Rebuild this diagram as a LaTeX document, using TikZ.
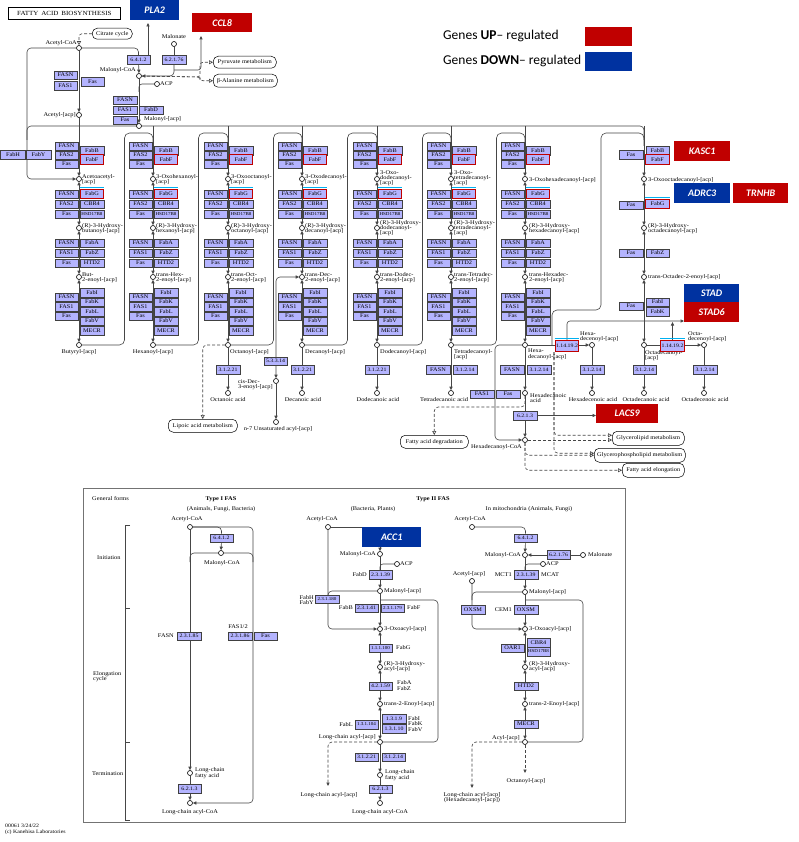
\documentclass[tikz,border=0pt]{standalone}
\usepackage{fontspec}
\setmainfont{Liberation Serif}
\newfontfamily\keggf[FakeStretch=1.12]{Liberation Serif}
\newfontfamily\calf{Carlito}
\usetikzlibrary{arrows.meta}
\pgfdeclarelayer{bg}
\pgfdeclarelayer{bgw}
\pgfsetlayers{bgw,bg,main}
\definecolor{encol}{RGB}{180,180,255}
\definecolor{upred}{RGB}{192,0,0}
\definecolor{dnblue}{RGB}{0,50,160}
\definecolor{cyanb}{RGB}{0,176,240}
\definecolor{lncol}{RGB}{70,70,70}
\tikzset{
 ebox/.style={draw=black!75, fill=encol, line width=0.45pt, minimum width=23.5pt, minimum height=8.5pt, inner sep=0pt, font=\keggf\fontsize{5.6}{5}\selectfont},
 ec/.style={font=\keggf\fontsize{5.2}{5}\selectfont},
 ecs/.style={font=\keggf\fontsize{4.5}{5}\selectfont},
 redb/.style={draw=upred, line width=1.1pt, minimum height=9.5pt},
 cpd/.style={circle, draw=black, line width=0.6pt, fill=white, inner sep=0pt, minimum size=5pt},
 lbl/.style={font=\keggf\fontsize{5.7}{5.2}\selectfont, inner sep=0pt, align=left},
 lblc/.style={lbl, align=center},
 ln/.style={draw=lncol, line width=0.6pt},
 arr/.style={ln, -{Triangle[length=3.5pt,width=3.2pt]}},
 barr/.style={ln, {Triangle[length=3.5pt,width=3.2pt]}-{Triangle[length=3.5pt,width=3.2pt]}},
 dsh/.style={ln, dash pattern=on 3pt off 2pt},
 oarr/.style={dsh, -{Triangle[open,length=4pt,width=4pt]}},
 darr/.style={dsh, -{Triangle[length=3.5pt,width=3.2pt]}},
 mapbox/.style={draw=black, rounded corners=5pt, line width=0.5pt, fill=white, inner sep=1pt, anchor=north west, font=\keggf\fontsize{5.7}{5}\selectfont},
 gene/.style={inner sep=0pt, anchor=north west, font=\calf\bfseries\itshape\fontsize{10}{10}\selectfont, text=white},
 up/.style={gene, fill=upred},
 dn/.style={gene, fill=dnblue},
}
\newcommand\cyantop[1]{\draw[cyanb, line width=0.9pt] ([yshift=1.4pt]#1.north west) -- ([yshift=1.4pt]#1.north east);}
\begin{document}
\begin{tikzpicture}[x=1pt,y=-1pt]
\begin{pgfonlayer}{bgw}
\fill[white] (0,0) rectangle (798,842);
\end{pgfonlayer}
\useasboundingbox (0,0) rectangle (798,842);

% ---------- title and legend ----------
\node[draw=black, line width=0.7pt, anchor=north west, minimum width=112pt, minimum height=12pt, inner sep=0pt, font=\keggf\fontsize{6.3}{6}\selectfont] (title) at (8,7) {FATTY\,\ ACID\,\ BIOSYNTHESIS};
\node[anchor=west, inner sep=0pt, font=\calf\fontsize{13.5}{14}\selectfont] (lgup) at (443,36) {Genes \textbf{UP}– regulated};
\node[anchor=west, inner sep=0pt, font=\calf\fontsize{13.5}{14}\selectfont] (lgdn) at (443,61) {Genes \textbf{DOWN}– regulated};
\node[up, minimum width=47pt, minimum height=19pt] (lgupb) at (585,27) {};
\node[dn, minimum width=47pt, minimum height=19pt] (lgdnb) at (585,52) {};

% ---------- gene boxes ----------
\node[dn, minimum width=49pt, minimum height=20pt] (pla2) at (130,0) {PLA2};
\node[up, minimum width=60pt, minimum height=19pt] (ccl8) at (192,13) {CCL8};
\node[up, minimum width=56pt, minimum height=20pt] (kasc1) at (674,141) {KASC1};
\node[dn, minimum width=56pt, minimum height=20pt] (adrc3) at (674,183) {ADRC3};
\node[up, minimum width=55pt, minimum height=20pt] (trnhb) at (733,183) {TRNHB};
\node[dn, minimum width=55pt, minimum height=18pt] (stad) at (684,284) {STAD};
\node[up, minimum width=55pt, minimum height=20pt] (stad6) at (684,302) {STAD6};
\node[up, minimum width=62pt, minimum height=19pt] (lacs9) at (596,404) {LACS9};
\node[dn, minimum width=59pt, minimum height=20pt] (acc1) at (362,527) {ACC1};

% ---------- top left ----------
\node[cpd] (acoa) at (79,48) {};
\node[lbl, anchor=east] (acoaL) at (77,43) {Acetyl-CoA};
\node[mapbox, minimum width=40pt, minimum height=11pt] (citr) at (92,28) {Citrate cycle};
\node[ebox] (tf1) at (65.5,75) {FASN};
\node[ebox] (tf2) at (65.5,85.5) {FAS1};
\node[ebox] (tf3) at (92.5,81.5) {Fas};
\node[cpd] (aacp) at (79,115) {};
\node[lbl, anchor=east] (aacpL) at (76,115) {Acetyl-[acp]};
\node[ebox,ec] (e6412) at (138.5,59.5) {6.4.1.2};
\node[ebox,ec] (e62176) at (174,59.5) {6.2.1.76};
\node[cpd] (malon) at (174,44) {};
\node[lblc] (malonL) at (174,37) {Malonate};
\node[cpd] (mcoa) at (139,76) {};
\node[lbl, anchor=east] (mcoaL) at (136,70) {Malonyl-CoA};
\node[mapbox, minimum width=63pt, minimum height=12pt] (pyr) at (213,56) {Pyruvate metabolism};
\node[mapbox, minimum width=64pt, minimum height=13pt] (bala) at (213,74) {β-Alanine metabolism};
\node[cpd] (acp0) at (157,84) {};
\node[lbl, anchor=west] (acp0L) at (160,84) {ACP};
\node[ebox] (mf1) at (125,100) {FASN};
\node[ebox] (mf2) at (125,110) {FAS1};
\node[ebox] (mf3) at (151,110) {FabD};
\node[ebox] (mf4) at (125,120) {Fas};
\node[cpd] (macp) at (139,126) {};
\node[lbl, anchor=west] (macpL) at (144,119.5) {Malonyl-[acp]};
\node[ebox, minimum width=25pt] (fabh) at (13,154.5) {FabH};
\node[ebox, minimum width=25pt] (faby) at (38.5,154.5) {FabY};
\coordinate (ccl8tip) at (201,36);
\coordinate (pla2tip) at (148,23);

% ---------- elongation columns 1..7 ----------
\foreach \i/\c in {1/79,2/153,3/228,4/302,5/377,6/451,7/525}{
  \node[ebox] (ba\i) at ({\c-12.5},146) {FASN};
  \node[ebox] (bb\i) at ({\c-12.5},155) {FAS2};
  \node[ebox] (bc\i) at ({\c-12.5},164) {Fas};
  \node[ebox] (bd\i) at ({\c+13},150.5) {FabB};
  \node[ebox,redb] (be\i) at ({\c+13},159.5) {FabF};
  \node[ebox] (ca\i) at ({\c-12.5},194) {FASN};
  \node[ebox] (cb\i) at ({\c-12.5},204) {FAS2};
  \node[ebox] (cc\i) at ({\c-12.5},214) {Fas};
  \node[ebox,redb] (cd\i) at ({\c+13},194) {FabG};
  \cyantop{cd\i}
  \node[ebox] (ce\i) at ({\c+13},204) {CBR4};
  \node[ebox,ecs] (cf\i) at ({\c+13},214) {HSD17B8};
  \node[ebox] (da\i) at ({\c-12.5},243) {FASN};
  \node[ebox] (db\i) at ({\c-12.5},253) {FAS1};
  \node[ebox] (dc\i) at ({\c-12.5},263) {Fas};
  \node[ebox] (dd\i) at ({\c+13},243) {FabA};
  \node[ebox] (de\i) at ({\c+13},253) {FabZ};
  \node[ebox] (df\i) at ({\c+13},263) {HTD2};
  \node[ebox] (ga\i) at ({\c-12.5},297) {FASN};
  \node[ebox] (gb\i) at ({\c-12.5},306.5) {FAS1};
  \node[ebox] (gc\i) at ({\c-12.5},316) {Fas};
  \node[ebox] (gd\i) at ({\c+13},292.5) {FabI};
  \node[ebox] (ge\i) at ({\c+13},302) {FabK};
  \node[ebox] (gf\i) at ({\c+13},311.5) {FabL};
  \node[ebox] (gg\i) at ({\c+13},321) {FabV};
  \node[ebox] (gh\i) at ({\c+13},330.5) {MECR};
  \node[cpd] (ox\i) at (\c,179) {};
  \node[cpd] (hy\i) at (\c,228) {};
  \node[cpd] (en\i) at (\c,277) {};
  \node[cpd] (pr\i) at (\c,345) {};
}
% labels columns
\node[lbl,anchor=west] (l1a) at (82,180) {Acetoacetyl-\\{}[acp]};
\node[lbl,anchor=west] (l1b) at (82,229) {(R)-3-Hydroxy-\\butanoyl-[acp]};
\node[lbl,anchor=west] (l1c) at (82,277.5) {But-\\2-enoyl-[acp]};
\node[lblc] (l1d) at (79,352) {Butyryl-[acp]};
\node[lbl,anchor=west] (l2a) at (156,180) {3-Oxohexanoyl-\\{}[acp]};
\node[lbl,anchor=west] (l2b) at (156,229) {(R)-3-Hydroxy-\\hexanoyl-[acp]};
\node[lbl,anchor=west] (l2c) at (156,277.5) {trans-Hex-\\2-enoyl-[acp]};
\node[lblc] (l2d) at (153,352) {Hexanoyl-[acp]};
\node[lbl,anchor=west] (l3a) at (231,180) {3-Oxooctanoyl-\\{}[acp]};
\node[lbl,anchor=west] (l3b) at (231,229) {(R)-3-Hydroxy-\\octanoyl-[acp]};
\node[lbl,anchor=west] (l3c) at (231,277.5) {trans-Oct-\\2-enoyl-[acp]};
\node[lbl,anchor=west] (l3d) at (230,352) {Octanoyl-[acp]};
\node[lbl,anchor=west] (l4a) at (305,180) {3-Oxodecanoyl-\\{}[acp]};
\node[lbl,anchor=west] (l4b) at (305,229) {(R)-3-Hydroxy-\\decanoyl-[acp]};
\node[lbl,anchor=west] (l4c) at (305,277.5) {trans-Dec-\\2-enoyl-[acp]};
\node[lbl,anchor=west] (l4d) at (305,352) {Decanoyl-[acp]};
\node[lbl,anchor=west] (l5a) at (380,178) {3-Oxo-\\dodecanoyl-\\{}[acp]};
\node[lbl,anchor=west] (l5b) at (380,228) {(R)-3-Hydroxy-\\dodecanoyl-\\{}[acp]};
\node[lbl,anchor=west] (l5c) at (380,277.5) {trans-Dodec-\\2-enoyl-[acp]};
\node[lbl,anchor=west] (l5d) at (380,352) {Dodecanoyl-[acp]};
\node[lbl,anchor=west] (l6a) at (454,178) {3-Oxo-\\tetradecanoyl-\\{}[acp]};
\node[lbl,anchor=west] (l6b) at (454,228) {(R)-3-Hydroxy-\\tetradecanoyl-\\{}[acp]};
\node[lbl,anchor=west] (l6c) at (454,277.5) {trans-Tetradec-\\2-enoyl-[acp]};
\node[lbl,anchor=north west] (l6d) at (454,349) {Tetradecanoyl-\\{}[acp]};
\node[lbl,anchor=west] (l7a) at (529,180) {3-Oxohexadecanoyl-[acp]};
\node[lbl,anchor=west] (l7b) at (529,229) {(R)-3-Hydroxy-\\hexadecanoyl-[acp]};
\node[lbl,anchor=west] (l7c) at (529,277.5) {trans-Hexadec-\\2-enoyl-[acp]};
\node[lbl,anchor=north west] (l7d) at (528,349) {Hexa-\\decanoyl-[acp]};

% ---------- column 8 ----------
\node[ebox] (h1) at (631,154.5) {Fas};
\node[ebox] (h2) at (657.5,150.5) {FabB};
\node[ebox,redb] (h3) at (657.5,159.5) {FabF};
\node[ebox] (h4) at (631,205) {Fas};
\node[ebox,redb] (h5) at (657.5,204) {FabG};
\cyantop{h5}
\node[ebox] (h6) at (631,253) {Fas};
\node[ebox] (h7) at (657.5,253) {FabZ};
\node[ebox] (h8) at (631,306) {Fas};
\node[ebox] (h9) at (657.5,302) {FabI};
\node[ebox] (h10) at (657.5,311.5) {FabK};
\node[cpd] (ox8) at (644,179) {};
\node[cpd] (hy8) at (644,228) {};
\node[cpd] (en8) at (644,277) {};
\node[cpd] (pr8) at (644,345) {};
\node[lbl,anchor=west] (l8a) at (648,180) {3-Oxooctadecanoyl-[acp]};
\node[lbl,anchor=west] (l8b) at (648,229) {(R)-3-Hydroxy-\\octadecanoyl-[acp]};
\node[lbl,anchor=west] (l8c) at (648,277.5) {trans-Octadec-2-enoyl-[acp]};
\node[lbl,anchor=north west] (l8d) at (645,350) {Octadecanoyl-\\{}[acp]};

% desaturases
\node[ebox,ec,redb,minimum height=10.5pt] (d9a) at (567,346) {1.14.19.2};
\cyantop{d9a}
\node[ebox,ec,redb,minimum height=10.5pt] (d9b) at (672.5,346) {1.14.19.2};
\cyantop{d9b}
\node[cpd] (hxe) at (592,345) {};
\node[lbl,anchor=south west] (hxeL) at (580,342) {Hexa-\\decenoyl-[acp]};
\node[cpd] (oce) at (704,345) {};
\node[lbl,anchor=south west] (oceL) at (688,342) {Octa-\\decenoyl-[acp]};
\coordinate (stadtip) at (684,321);
\coordinate (d9bup) at (672.5,322);

% thioesterases
\node[ebox,ec] (t3) at (228,369.5) {3.1.2.21};
\node[ebox,ec] (t4) at (302.5,369.5) {3.1.2.21};
\node[ebox,ec] (t5) at (377,369.5) {3.1.2.21};
\node[ebox] (t6a) at (438,369.5) {FASN};
\node[ebox,ec] (t6b) at (465,369.5) {3.1.2.14};
\node[ebox] (t7a) at (512,369.5) {FASN};
\node[ebox,ec] (t7b) at (539,369.5) {3.1.2.14};
\node[ebox,ec] (t8) at (592,369.5) {3.1.2.14};
\node[ebox,ec] (t9) at (644.5,369.5) {3.1.2.14};
\node[ebox,ec] (t10) at (705,369.5) {3.1.2.14};
\node[cpd] (fa3) at (228,393) {};
\node[cpd] (fa4) at (302,393) {};
\node[cpd] (fa5) at (377,393) {};
\node[cpd] (fa6) at (451,393) {};
\node[cpd] (hda) at (525,393) {};
\node[cpd] (fa8) at (592,393) {};
\node[cpd] (fa9) at (644,393) {};
\node[cpd] (fa10) at (704,393) {};
\node[lblc] (fa3L) at (228,400) {Octanoic acid};
\node[lblc] (fa4L) at (303,400) {Decanoic acid};
\node[lblc] (fa5L) at (378,400) {Dodecanoic acid};
\node[lblc] (fa6L) at (444,400) {Tetradecanoic acid};
\node[lbl,anchor=west] (hdaL) at (530,398) {Hexadecanoic\\acid};
\node[lblc] (fa8L) at (593,400) {Hexadecenoic acid};
\node[lblc] (fa9L) at (646,400) {Octadecanoic acid};
\node[lblc] (fa10L) at (705,400) {Octadecenoic acid};

% isomerase branch
\node[ebox,ec] (e53314) at (275.5,361) {5.3.3.14};
\node[cpd] (cisd) at (276,381) {};
\node[lbl,anchor=east] (cisdL) at (273,385) {cis-Dec-\\3-enoyl-[acp]};
\node[cpd] (n7) at (276,422) {};
\node[lblc] (n7L) at (278,429.5) {n-7 Unsaturated acyl-[acp]};

% lower right of main map
\node[mapbox, minimum width=69pt, minimum height=13pt] (lipo) at (168,419) {Lipoic acid metabolism};
\node[mapbox, minimum width=68pt, minimum height=13pt] (fadeg) at (400,435) {Fatty acid degradation};
\node[ebox] (y1) at (482,394) {FAS1};
\node[ebox] (y2) at (508,394) {Fas};
\node[ebox,ec] (e6213) at (525,415.5) {6.2.1.3};
\node[cpd] (hcoa) at (525,440) {};
\node[lbl,anchor=east] (hcoaL) at (522,447) {Hexadecanoyl-CoA};
\node[mapbox, minimum width=72pt, minimum height=14pt] (glyc) at (612,431) {Glycerolipid metabolism};
\node[mapbox, minimum width=91pt, minimum height=14pt] (gphl) at (594,448) {Glycerophospholipid metabolism};
\node[mapbox, minimum width=62pt, minimum height=14pt] (fael) at (622,463) {Fatty acid elongation};
\coordinate (dsA) at (554,352);

% ---------- lower panel ----------
\node[draw=black!55, line width=0.8pt, anchor=north west, minimum width=542pt, minimum height=334pt, inner sep=0pt] (panel) at (83,488) {};
\node[lbl,anchor=west] (gf) at (92,499) {General forms};
\node[lblc, font=\keggf\bfseries\fontsize{5.7}{5}\selectfont] (ty1) at (221,499) {Type I FAS};
\node[lblc] (ty1b) at (221,509) {(Animals, Fungi, Bacteria)};
\node[lblc, font=\keggf\bfseries\fontsize{5.7}{5}\selectfont] (ty2) at (433,499) {Type II FAS};
\node[lblc] (ty2b) at (373,509) {(Bacteria, Plants)};
\node[lblc] (ty3b) at (529,509) {In mitochondria (Animals, Fungi)};
\node[lbl,anchor=west] (ini) at (97,558) {Initiation};
\node[lbl,anchor=west] (elo) at (93,677) {Elongation\\cycle};
\node[lbl,anchor=west] (ter) at (92,774) {Termination};
\coordinate (brA) at (130,525);
\coordinate (brB) at (130,820);

% Type I
\node[cpd] (t1a) at (190,527) {};
\node[lblc] (t1aL) at (187,519.5) {Acetyl-CoA};
\node[ebox,ec] (t1e1) at (221.5,538) {6.4.1.2};
\node[cpd] (t1m) at (221,553) {};
\node[lblc] (t1mL) at (222,563) {Malonyl-CoA};
\node[lbl,anchor=east] (t1fasn) at (174,636) {FASN};
\node[ebox,ec] (t1e2) at (189,636) {2.3.1.85};
\node[lblc] (t1fas12) at (238,627) {FAS1/2};
\node[ebox,ec] (t1e3) at (240,636) {2.3.1.86};
\node[ebox] (t1e4) at (265.5,636) {Fas};
\node[cpd] (t1lf) at (190,773) {};
\node[lbl,anchor=west] (t1lfL) at (195,773) {Long-chain\\fatty acid};
\node[ebox,ec] (t1e5) at (189.5,788.5) {6.2.1.3};
\node[cpd] (t1lc) at (190,803) {};
\node[lblc] (t1lcL) at (190,812) {Long-chain acyl-CoA};

% Type II
\node[cpd] (t2a) at (328,527) {};
\node[lblc] (t2aL) at (322,519.5) {Acetyl-CoA};
\node[cpd] (t2m) at (380,554) {};
\node[lbl,anchor=east] (t2mL) at (376,554) {Malonyl-CoA};
\node[cpd] (t2acp) at (397,564) {};
\node[lbl,anchor=west] (t2acpL) at (400,564) {ACP};
\node[lbl,anchor=east] (t2fabd) at (367,574.5) {FabD};
\node[ebox,ec] (t2e1) at (380.5,574.5) {2.3.1.39};
\node[cpd] (t2ma) at (380,591) {};
\node[lbl,anchor=west] (t2maL) at (384,591) {Malonyl-[acp]};
\node[lbl,anchor=east] (t2fabh) at (314,600) {FabH\\FabY};
\node[ebox,ecs] (t2e2) at (327,599) {2.3.1.180};
\node[lbl,anchor=east] (t2fabb) at (353,608) {FabB};
\node[ebox,ec] (t2e3) at (366.5,608) {2.3.1.41};
\node[ebox,ecs] (t2e4) at (392.5,608) {2.3.1.179};
\node[lbl,anchor=west] (t2fabf) at (407,608) {FabF};
\node[cpd] (t2ox) at (380,629) {};
\node[lbl,anchor=west] (t2oxL) at (384,629.5) {3-Oxoacyl-[acp]};
\node[ebox,ecs] (t2e5) at (380.5,648) {1.1.1.100};
\node[lbl,anchor=west] (t2fabg) at (396,648) {FabG};
\node[cpd] (t2hy) at (380,667) {};
\node[lbl,anchor=west] (t2hyL) at (384,667) {(R)-3-Hydroxy-\\acyl-[acp]};
\node[ebox,ec] (t2e6) at (380.5,686) {4.2.1.59};
\node[lbl,anchor=west] (t2faba) at (397,685.5) {FabA\\FabZ};
\node[cpd] (t2en) at (380,704) {};
\node[lbl,anchor=west] (t2enL) at (384,704.5) {trans-2-Enoyl-[acp]};
\node[ebox,ec] (t2e7) at (394,718.5) {1.3.1.9};
\node[ebox,ec] (t2e8) at (394,728.5) {1.3.1.10};
\node[ebox,ecs] (t2e9) at (366.5,724.5) {1.3.1.104};
\node[lbl,anchor=east] (t2fabl) at (353,724.5) {FabL};
\node[lbl,anchor=west] (t2fabi) at (408,724) {FabI\\FabK\\FabV};
\node[cpd] (t2lc) at (380,742) {};
\node[lbl,anchor=east] (t2lcL) at (376,737) {Long-chain acyl-[acp]};
\node[ebox,ec] (t2e10) at (366.5,757) {3.1.2.21};
\node[ebox,ec] (t2e11) at (393.5,757) {3.1.2.14};
\node[cpd] (t2lf) at (380,775) {};
\node[lbl,anchor=west] (t2lfL) at (385,775) {Long-chain\\fatty acid};
\node[ebox,ec] (t2e12) at (380.5,789) {6.2.1.3};
\node[cpd] (t2lcoa) at (380,803) {};
\node[lblc] (t2lcoaL) at (380,812) {Long-chain acyl-CoA};
\coordinate (t2dend) at (328,786);
\node[lblc] (t2dL) at (329,795) {Long-chain acyl-[acp]};

% Mitochondria
\node[cpd] (m1) at (472,527) {};
\node[lblc] (m1L) at (470,519.5) {Acetyl-CoA};
\node[ebox,ec] (me1) at (525.5,538) {6.4.1.2};
\node[cpd] (mm) at (525,555) {};
\node[lbl,anchor=east] (mmL) at (521,555) {Malonyl-CoA};
\node[ebox,ec] (me2) at (558.5,554.5) {6.2.1.76};
\node[cpd] (malon2) at (583,555) {};
\node[lbl,anchor=west] (malon2L) at (588,555) {Malonate};
\node[cpd] (acp2) at (543,564) {};
\node[lbl,anchor=west] (acp2L) at (546,564) {ACP};
\node[lbl,anchor=east] (mct1) at (512,574.5) {MCT1};
\node[ebox,ec] (me3) at (526,574.5) {2.3.1.39};
\node[lbl,anchor=west] (mcat) at (541,574.5) {MCAT};
\node[cpd] (mma) at (525,592) {};
\node[lbl,anchor=west] (mmaL) at (529,592) {Malonyl-[acp]};
\node[cpd] (maa) at (472,581) {};
\node[lblc] (maaL) at (469,574) {Acetyl-[acp]};
\node[ebox] (me4) at (473,609.5) {OXSM};
\node[lbl,anchor=east] (cem1) at (512,609.5) {CEM1};
\node[ebox] (me5) at (526,609.5) {OXSM};
\node[cpd] (mox) at (525,629) {};
\node[lbl,anchor=west] (moxL) at (529,629.5) {3-Oxoacyl-[acp]};
\node[ebox] (me6) at (538.5,642.5) {CBR4};
\node[ebox,ecs] (me7) at (538.5,651.5) {HSD17B8};
\node[ebox] (me8) at (512.5,648) {OAR1};
\node[cpd] (mhy) at (525,667) {};
\node[lbl,anchor=west] (mhyL) at (529,667) {(R)-3-Hydroxy-\\acyl-[acp]};
\node[ebox] (me9) at (526,686) {HTD2};
\node[cpd] (men) at (525,704) {};
\node[lbl,anchor=west] (menL) at (529,704.5) {trans-2-Enoyl-[acp]};
\node[ebox] (me10) at (526,724) {MECR};
\node[cpd] (macyl) at (525,742) {};
\node[lbl,anchor=east] (macylL) at (520,738) {Acyl-[acp]};
\coordinate (moct) at (525,773);
\node[lblc] (moctL) at (526,781) {Octanoyl-[acp]};
\coordinate (mlc) at (472,788);
\node[lblc] (mlcL) at (472,798) {Long-chain acyl-[acp]\\(Hexadecanoyl-[acp])};

% footer
\node[lbl,anchor=north west, font=\keggf\fontsize{5.2}{6}\selectfont] (foot) at (5,824) {00061 3/24/22\\(c) Kanehisa Laboratories};

% ================= connectors =================
\begin{pgfonlayer}{bg}
\draw[oarr, rounded corners=3pt] (citr.west) -| (acoa);
\draw[arr] (acoa) -- (aacp);
\draw[ln, rounded corners=4pt] (acoa) -- (138.5,48) -- (e6412.north);
\draw[arr] (e6412) -- (mcoa);
\draw[arr] ([xshift=9.5pt]e6412.north) -- (pla2tip);
\draw[ln] (malon) -- (e62176);
\draw[arr, rounded corners=4pt] (e62176.south) -- (174,76) -- (mcoa);
\draw[arr, rounded corners=3pt] (174,70) -| (ccl8tip);
\draw[oarr, rounded corners=3pt] (mcoa) -- (200,77) |- (pyr.west);
\draw[oarr, rounded corners=3pt] (mcoa) -- (200,77) |- (bala.west);
\draw[ln, rounded corners=3pt] (139,92) |- (acp0);
\draw[arr] (mcoa) -- (macp);
\draw[ln, rounded corners=4pt] (27,140) -- (27,126) -- (644,126) -- (644,140);
\draw[arr, rounded corners=4pt] (acoa) -- (27,48) -- (27,179) -- (ox1);
\draw[arr] (aacp) -- (ox1);
\foreach \i/\c in {2/153,3/228,4/302,5/377,6/451,7/525,8/644}{
  \draw[arr] (\c,126) -- (ox\i);
}
\foreach \i in {1,...,8}{
  \draw[barr] (ox\i) -- (hy\i);
  \draw[barr] (hy\i) -- (en\i);
  \draw[barr] (en\i) -- (pr\i);
}
\foreach \i/\c/\n in {1/79/153,2/153/228,3/228/302,4/302/377,5/377/451,6/451/525}{
  \draw[ln, rounded corners=5pt] (pr\i) -- ({\c+45.5},345) -- ({\c+45.5},133) -- (\n,133) -- (\n,146);
}
\draw[ln, rounded corners=5pt] (552,345) -- (552,310) -- (601,310) -- (601,133) -- (644,133) -- (644,146);
\draw[arr] (pr7) -- (hxe);
\draw[arr] (pr8) -- (oce);
\draw[arr, rounded corners=3pt] (d9a.north) |- (stadtip);
\draw[arr] (d9b.north) -- (d9bup);
\draw[arr] (pr3) -- (fa3);
\draw[arr] (pr4) -- (fa4);
\draw[arr] (pr5) -- (fa5);
\draw[arr] (pr6) -- (fa6);
\draw[arr] (pr7) -- (hda);
\draw[arr] (hxe) -- (fa8);
\draw[arr] (pr8) -- (fa9);
\draw[arr] (oce) -- (fa10);
\draw[barr, rounded corners=4pt] (en4) -| (cisd);
\draw[arr] (cisd) -- (n7);
\draw[oarr, rounded corners=4pt] (pr3) -| (lipo.north);
\draw[oarr, rounded corners=4pt] (hda) -- (525,407) -| (fadeg.north);
\draw[arr] (hda) -- (hcoa);
\draw[arr] (e6213.east) -- (e6213 -| lacs9.west);
\draw[arr, rounded corners=4pt] (pr7) -- (495,345) -- (495,440) -- (hcoa);
\draw[oarr] (hcoa) -- (hcoa -| glyc.west);
\draw[oarr, rounded corners=4pt] (hcoa) |- (gphl.west);
\draw[oarr, rounded corners=4pt] (hcoa) |- (fael.west);
\draw[oarr, rounded corners=4pt] (dsA) |- ([yshift=3pt]glyc.west);
\draw[oarr, rounded corners=4pt] (dsA) |- ([yshift=2pt]gphl.west);
% panel
\draw[ln] (brA) -- (125,525) -- (125,820) -- (brB);
\draw[ln] (125,608) -- (130,608);
\draw[ln] (125,742) -- (130,742);
% type I
\draw[ln, rounded corners=4pt] (t1a) -- (221.5,527) -- (t1e1.north);
\draw[arr] (t1e1) -- (t1m);
\draw[arr, rounded corners=4pt] (t1a) -- (253,527) -- (253,803) -- (t1lc);
\draw[ln, rounded corners=4pt] (t1m) -- (190,553) -- (190,562);
\draw[ln, rounded corners=4pt] (t1m) -- (253,553) -- (253,562);
\draw[arr] (t1a) -- (t1lf);
\draw[arr] (t1lf) -- (t1lc);
% type II
\draw[ln] (t2a) -- (t2a -| acc1.west);
\draw[arr] (acc1.south -| t2m) -- (t2m);
\draw[ln, rounded corners=3pt] (380,570) |- (t2acp);
\draw[arr] (t2m) -- (t2ma);
\draw[arr, rounded corners=4pt] (t2a) -- (328,629) -- (t2ox);
\draw[ln, rounded corners=4pt] (t2ma) -- (328,591) -- (328,600);
\draw[arr] (t2ma) -- (t2ox);
\draw[ln, rounded corners=4pt] (380,600) -- (438,600) -- (438,742) -- (t2lc);
\draw[barr] (t2ox) -- (t2hy);
\draw[barr] (t2hy) -- (t2en);
\draw[barr] (t2en) -- (t2lc);
\draw[arr] (t2lc) -- (t2lf);
\draw[arr] (t2lf) -- (t2lcoa);
\draw[darr, rounded corners=4pt] (t2lc) -| (t2dend);
% mitochondria
\draw[ln, rounded corners=4pt] (m1) -- (525.5,527) -- (me1.north);
\draw[arr] (me1) -- (mm);
\draw[arr] (malon2) -- (mm);
\draw[ln, rounded corners=3pt] (525,570) |- (acp2);
\draw[arr] (mm) -- (mma);
\draw[arr, rounded corners=4pt] (maa) -- (472,629) -- (mox);
\draw[ln, rounded corners=4pt] (mma) -- (472,592) -- (472,600);
\draw[arr] (mma) -- (mox);
\draw[ln, rounded corners=4pt] (525,600) -- (583,600) -- (583,742) -- (macyl);
\draw[barr] (mox) -- (mhy);
\draw[barr] (mhy) -- (men);
\draw[barr] (men) -- (macyl);
\draw[darr] (macyl) -- (moct);
\draw[darr, rounded corners=4pt] (macyl) -| (mlc);
\end{pgfonlayer}
\end{tikzpicture}
\end{document}
